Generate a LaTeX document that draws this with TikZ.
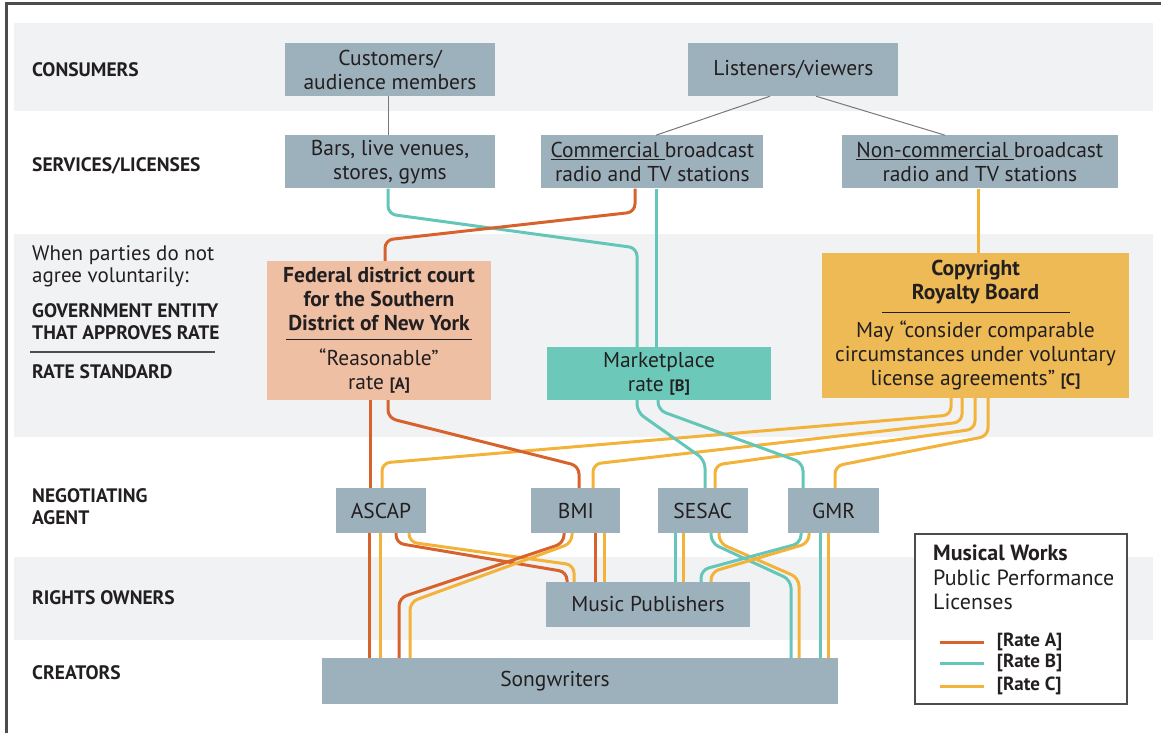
\documentclass[tikz,border=0pt]{standalone}
\usepackage{fontspec}
\setmainfont{PT Sans}
\usetikzlibrary{positioning}

\definecolor{bandgray}{RGB}{241,242,244}
\definecolor{boxgray}{RGB}{157,177,188}
\definecolor{courtpeach}{RGB}{239,191,164}
\definecolor{marketteal}{RGB}{108,201,186}
\definecolor{crbgold}{RGB}{238,186,85}
\definecolor{rateAcol}{RGB}{216,98,44}
\definecolor{rateBcol}{RGB}{99,198,184}
\definecolor{rateCcol}{RGB}{243,178,58}
\definecolor{linkgray}{RGB}{120,120,120}
\definecolor{ink}{RGB}{35,31,32}

\newcommand{\boxtextsize}{\fontsize{21.5}{24}\selectfont}
\newcommand{\rowtextsize}{\fontsize{19.5}{22}\selectfont}
\newcommand{\ratetag}[1]{{\fontsize{16.5}{18}\selectfont\bfseries [#1]}}

\begin{document}
\begin{tikzpicture}[x=1pt, y=-1pt,
      box/.style={fill=boxgray, text=ink, align=center, inner sep=0pt, font=\boxtextsize},
      rowlabel/.style={anchor=west, align=left, text=ink, inner sep=0pt, font=\rowtextsize\bfseries},
      band/.style={fill=bandgray},
      link/.style={draw=linkgray, line width=1pt},
      rate/.style={line width=3pt, rounded corners=8pt},
      rateA/.style={rate, draw=rateAcol},
      rateB/.style={rate, draw=rateBcol},
      rateC/.style={rate, draw=rateCcol},
      ratelabel/.style={right=8pt, text=ink, font=\fontsize{19}{20}\selectfont\bfseries},
    ]
      \useasboundingbox (0,0) rectangle (1161,733);

      % bands and frame
      \fill[band] (14,23) rectangle (1153,111);
      \fill[band] (14,234) rectangle (1153,437);
      \fill[band] (14,557) rectangle (1153,640);
      \draw[line width=2.5pt, draw=black!70] (6.5,733) -- (6.5,3.5) -- (1161,3.5);

      % row labels
      \node[rowlabel] (consumers) at (32,70) {CONSUMERS};
      \node[rowlabel] (services) at (32,166) {SERVICES/LICENSES};
      \node[rowlabel, font=\fontsize{21}{22}\selectfont] (parties) at (32,266) {When parties do not\\agree voluntarily:};
      \node[rowlabel] (government) at (32,322) {GOVERNMENT ENTITY\\THAT APPROVES RATE};
      \draw[line width=1.2pt, draw=ink!80] (30,352) -- (215,352);
      \node[rowlabel] (standard) at (32,372) {RATE STANDARD};
      \node[rowlabel] (agent) at (32,507) {NEGOTIATING\\AGENT};
      \node[rowlabel] (owners) at (32,598) {RIGHTS OWNERS};
      \node[rowlabel] (creators) at (32,673) {CREATORS};

      % boxes
      \node[box, minimum width=210pt, minimum height=53pt] (cust) at (390,69.5) {Customers/\\audience members};
      \node[box, minimum width=210pt, minimum height=53pt, right=193pt of cust] (listen) {Listeners/viewers};
      \node[box, minimum width=210pt, minimum height=53pt, below=39pt of cust] (bars) {Bars, live venues,\\stores, gyms};
      \node[box, minimum width=222pt, minimum height=53pt, right=46pt of bars] (comm) {\underline{Commercial\ }broadcast\\radio and TV stations};
      \node[box, minimum width=276pt, minimum height=53pt, right=78pt of comm] (noncomm) {\underline{Non-commercial\ }broadcast\\radio and TV stations};

      \node[box, fill=courtpeach, minimum width=224pt, minimum height=139pt] (court) at (379,330.5)
        {\bfseries Federal district court\\\bfseries for the Southern\\\bfseries District of New York\\[-15pt]
         \rule{186pt}{0.8pt}\\[2pt]“Reasonable”\\rate \ratetag{A}};
      \node[box, fill=marketteal, minimum width=224pt, minimum height=53pt] (market) at (659,373.5) {Marketplace\\rate \ratetag{B}};
      \node[box, fill=crbgold, minimum width=307pt, minimum height=145pt] (crb) at (975.5,325.5)
        {\bfseries Copyright\\\bfseries Royalty Board\\[-11pt]
         \rule{188pt}{0.8pt}\\[1pt]May “consider comparable\\circumstances under voluntary\\license agreements” \ratetag{C}};

      \node[box, minimum width=90pt, minimum height=45pt] (ascap) at (381,510.5) {ASCAP};
      \node[box, minimum width=89pt, minimum height=45pt, right=105pt of ascap] (bmi) {BMI};
      \node[box, minimum width=90pt, minimum height=45pt, right=37pt of bmi] (sesac) {SESAC};
      \node[box, minimum width=91pt, minimum height=45pt, right=40pt of sesac] (gmr) {GMR};

      \node[box, minimum width=204pt, minimum height=45pt] (pub) at (648,604.5) {Music Publishers};
      \node[box, minimum width=516pt, minimum height=46pt] (song) at (580,681) {};
      \node[box, fill=none] (songtext) at (555,681) {Songwriters};

      % consumers to services
      \draw[link] (388,0 |- cust.south) -- (388,0 |- bars.north);
      \draw[link] (770,0 |- listen.south) -- (656,0 |- comm.north);
      \draw[link] (816,0 |- listen.south) -- (945,0 |- noncomm.north);

      % services to rate standards
      \draw[rateB] (388,0 |- bars.south) -- (388,214) -- (637,248) -- (637,0 |- market.north);
      \draw[rateB] (656,0 |- comm.south) -- (656,0 |- market.north);
      \draw[rateA] (635,0 |- comm.south) -- (635,212) -- (385,240) -- (385,0 |- court.north);
      \draw[rateC] (978,0 |- noncomm.south) -- (978,0 |- crb.north);

      % rate standards to agents
      \draw[rateC] (951,0 |- crb.south) -- (951,415) -- (382,463) -- (382,0 |- ascap.north);
      \draw[rateC] (962,0 |- crb.south) -- (962,422) -- (593,464) -- (593,0 |- bmi.north);
      \draw[rateC] (975,0 |- crb.south) -- (975,429) -- (715,465) -- (715,0 |- sesac.north);
      \draw[rateC] (988,0 |- crb.south) -- (988,436) -- (835,466) -- (835,0 |- gmr.north);
      \draw[rateB] (637,0 |- market.south) -- (637,412) -- (705,460) -- (705,0 |- sesac.north);
      \draw[rateB] (658,0 |- market.south) -- (658,410) -- (803,463) -- (803,0 |- gmr.north);
      \draw[rateA] (370,0 |- court.south) -- (370,0 |- ascap.north);
      \draw[rateA] (388,0 |- court.south) -- (388,418) -- (579,466) -- (579,0 |- bmi.north);

      % agents to owners and creators
      \draw[rateA] (369,0 |- ascap.south) -- (369,0 |- song.north);
      \draw[rateC] (380,0 |- ascap.south) -- (380,0 |- song.north);
      \draw[rateA] (396,0 |- ascap.south) -- (396,543) -- (567,572) -- (567,0 |- pub.north);
      \draw[rateC] (409,0 |- ascap.south) -- (409,542) -- (574,565) -- (574,0 |- pub.north);
      \draw[rateA] (564,0 |- bmi.south) -- (564,543) -- (399,598) -- (399,0 |- song.north);
      \draw[rateC] (572,0 |- bmi.south) -- (572,543) -- (410,602) -- (410,0 |- song.north);
      \draw[rateA] (595,0 |- bmi.south) -- (595,0 |- pub.north);
      \draw[rateC] (604,0 |- bmi.south) -- (604,0 |- pub.north);
      \draw[rateB] (675,0 |- sesac.south) -- (675,0 |- pub.north);
      \draw[rateC] (683,0 |- sesac.south) -- (683,0 |- pub.north);
      \draw[rateB] (711,0 |- sesac.south) -- (711,543) -- (791,580) -- (791,0 |- song.north);
      \draw[rateC] (719,0 |- sesac.south) -- (719,543) -- (799,578) -- (799,0 |- song.north);
      \draw[rateB] (801,0 |- gmr.south) -- (801,543) -- (701,570) -- (701,0 |- pub.north);
      \draw[rateC] (809,0 |- gmr.south) -- (809,543) -- (711,572) -- (711,0 |- pub.north);
      \draw[rateB] (820,0 |- gmr.south) -- (820,0 |- song.north);
      \draw[rateC] (828,0 |- gmr.south) -- (828,0 |- song.north);

      % legend
      \node[draw=black!70, line width=1.3pt, fill=white, minimum width=212pt, minimum height=170pt, inner sep=0pt] (legend) at (1021,619) {};
      \node[anchor=north west, align=left, inner sep=0pt, text=ink, font=\fontsize{22}{24.5}\selectfont] (legendtitle) at (933,545)
        {\textbf{Musical Works}\\Public Performance\\Licenses};
      \draw[rateA] (940,642) -- (984,642) node[ratelabel] {[Rate A]};
      \draw[rateB] (940,663) -- (984,663) node[ratelabel] {[Rate B]};
      \draw[rateC] (940,686) -- (984,686) node[ratelabel] {[Rate C]};
\end{tikzpicture}
\end{document}
